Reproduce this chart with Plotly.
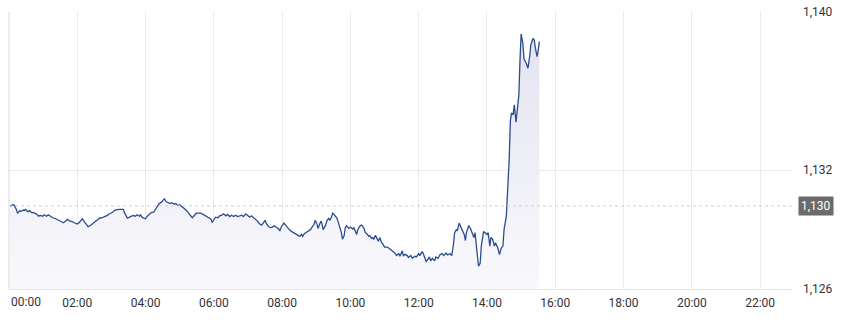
import pandas as pd
import plotly.graph_objects as go

# minutes after 00:00
minutes = [
    2, 7, 9, 13, 15, 19, 21, 25, 27, 29, 33, 36, 40, 43, 48, 52, 55, 59, 62, 66, 69, 73, 77, 82, 87,
    91, 96, 99, 103, 107, 110, 115, 120, 123, 127, 129, 132, 136, 139, 143, 146, 150, 153, 157, 160,
    162, 166, 169, 173, 175, 179, 182, 186, 189, 193, 197, 201, 203, 206, 208, 211, 215, 218, 222, 225,
    229, 231, 234, 237, 240, 243, 247, 250, 254, 257, 261, 264, 268, 271, 273, 276, 279, 283, 286, 290,
    293, 297, 300, 304, 308, 311, 315, 318,
    322, 326, 329, 333, 337, 341, 344, 348, 351, 355, 357, 360, 363, 367, 370, 374, 377, 381, 384, 388,
    391, 395, 398, 402, 405, 409, 412, 416, 419, 423, 426, 430, 433, 437, 440, 444, 447, 450, 452, 456,
    459, 463, 466, 470, 473, 476, 479, 483, 486, 490, 493,
    497, 501, 504, 508, 511, 514, 516, 519, 523, 526, 530, 532, 536, 538, 541, 543, 545, 548, 550, 552,
    556, 559, 562, 564, 566, 569, 571, 573, 576, 578, 582, 584, 586, 589, 591, 593, 597, 600, 604, 606,
    609, 611, 613, 616, 619, 621, 624, 626, 630, 632, 634, 637, 639, 641, 644, 646, 649, 652, 654, 658,
    660, 665, 668, 672, 675, 679, 681, 685, 687, 691, 693, 696, 700, 702, 706, 709, 713, 716, 720, 722,
    726, 728, 730, 733, 736, 739, 741, 744, 748, 750, 754, 757, 761, 764, 768, 771, 775, 778, 781, 783,
    786, 788, 791, 794, 797, 800, 802, 804, 808, 811, 814, 817, 819, 821, 825, 828, 830, 834, 837, 840,
    842, 845, 847, 850, 853, 855, 859, 862, 865, 868, 870, 874, 876, 879, 881, 883, 886, 888, 891, 894,
    896, 898, 900, 903, 905, 909, 912, 915, 917, 921, 923, 925, 928, 930, 932,
]

price = [
    1.13019, 1.13026, 1.13024, 1.13002, 1.12982, 1.12996, 1.12992, 1.12999, 1.12997, 1.13002, 1.12991,
    1.12996, 1.12986, 1.12986, 1.12980, 1.12968, 1.12972, 1.12968, 1.12975, 1.12968, 1.12975, 1.12965,
    1.12960, 1.12955, 1.12948, 1.12945, 1.12935, 1.12943, 1.12952, 1.12943, 1.12942, 1.12935, 1.12928,
    1.12935, 1.12948, 1.12955, 1.12942, 1.12925, 1.12915, 1.12921, 1.12928, 1.12935, 1.12945, 1.12952,
    1.12960,
    1.12958, 1.12962, 1.12968, 1.12972, 1.12978, 1.12982, 1.12988, 1.12999, 1.13002, 1.13002, 1.13002,
    1.13002, 1.12986, 1.12968, 1.12958, 1.12962, 1.12968, 1.12972, 1.12968, 1.12975, 1.12968, 1.12975,
    1.12962, 1.12958, 1.12955, 1.12968, 1.12978, 1.12986, 1.12988, 1.12999, 1.13019, 1.13032, 1.13039,
    1.13049, 1.13056, 1.13042, 1.13039, 1.13032, 1.13036, 1.13029, 1.13032, 1.13022, 1.13026, 1.13016,
    1.13009, 1.12999, 1.12986, 1.12972,
    1.12960, 1.12973, 1.12983, 1.12983, 1.12983, 1.12977, 1.12973, 1.12966, 1.12960, 1.12953, 1.12936,
    1.12950, 1.12963, 1.12960, 1.12970, 1.12973, 1.12980, 1.12970, 1.12977, 1.12966, 1.12973, 1.12966,
    1.12973, 1.12966, 1.12970, 1.12973, 1.12966, 1.12980, 1.12973, 1.12963, 1.12970, 1.12957, 1.12953,
    1.12943, 1.12930, 1.12923, 1.12933, 1.12947, 1.12933, 1.12916, 1.12910, 1.12913, 1.12920, 1.12913,
    1.12906, 1.12896, 1.12916, 1.12933, 1.12921, 1.12910, 1.12899,
    1.12890, 1.12883, 1.12876, 1.12870, 1.12866, 1.12876, 1.12866, 1.12880, 1.12886, 1.12893, 1.12900,
    1.12910, 1.12927, 1.12947, 1.12930, 1.12906, 1.12923, 1.12943, 1.12930, 1.12900, 1.12920, 1.12947,
    1.12957, 1.12947, 1.12960, 1.12983, 1.12977, 1.12970, 1.12960, 1.12943, 1.12910, 1.12886, 1.12852,
    1.12870, 1.12910, 1.12920, 1.12906, 1.12913, 1.12903, 1.12910, 1.12890, 1.12876, 1.12900, 1.12916,
    1.12923, 1.12920, 1.12906, 1.12886, 1.12876, 1.12866, 1.12870, 1.12856, 1.12860, 1.12852, 1.12871,
    1.12858, 1.12842, 1.12860, 1.12839, 1.12822, 1.12812,
    1.12812, 1.12806, 1.12796, 1.12789, 1.12779, 1.12769, 1.12779, 1.12765, 1.12792, 1.12769, 1.12775,
    1.12769, 1.12759, 1.12769, 1.12755, 1.12765, 1.12762, 1.12779, 1.12769, 1.12789, 1.12779, 1.12759,
    1.12739, 1.12749, 1.12762, 1.12742, 1.12755, 1.12742, 1.12762, 1.12755, 1.12772, 1.12779, 1.12769,
    1.12782, 1.12772, 1.12779, 1.12769, 1.12823, 1.12883, 1.12900, 1.12896, 1.12933, 1.12913, 1.12896,
    1.12876, 1.12845, 1.12886, 1.12921, 1.12906, 1.12883, 1.12860, 1.12885, 1.12817, 1.12716, 1.12730,
    1.12817, 1.12891, 1.12885, 1.12875, 1.12885, 1.12817, 1.12861, 1.12851, 1.12817, 1.12834, 1.12807,
    1.12774, 1.12807, 1.12817, 1.12901, 1.12968, 1.13086, 1.13254, 1.13446, 1.13489, 1.13481, 1.13531,
    1.13443, 1.13516, 1.13582, 1.13758, 1.13889, 1.13842, 1.13762, 1.13741, 1.13716, 1.13775, 1.13834,
    1.13867, 1.13859, 1.13817, 1.13775, 1.13809, 1.13850,
]

prev_close = 1.1302
y_ticks = [1.126, 1.132, 1.140]
y_tick_text = ["1,126", "1,132", "1,140"]
x_tick_hours = [0, 2, 4, 6, 8, 10, 12, 14, 16, 18, 20, 22]
x_tick_text = ["00:00", "02:00", "04:00", "06:00", "08:00", "10:00",
               "12:00", "14:00", "16:00", "18:00", "20:00", "22:00"]

n = min(len(minutes), len(price))
base = pd.Timestamp("2024-01-01 00:00")
times = [base + pd.Timedelta(minutes=m) for m in minutes[:n]]
tick_vals = [base + pd.Timedelta(hours=h) for h in x_tick_hours]
# first label is drawn left-aligned at the axis start (like the reference)
axis_tick_text = [""] + x_tick_text[1:]

fig = go.Figure()
fig.add_trace(go.Scatter(
    x=times, y=price[:n], mode="lines",
    line=dict(color="#2b4c8e", width=1.3),
    fill="tozeroy",
    fillgradient=dict(type="vertical",
                      colorscale=[[0, "rgba(249,249,252,1)"], [1, "rgba(226,226,241,1)"]],
                      start=1.126, stop=1.140),
    hoverinfo="skip", showlegend=False,
))

fig.add_shape(type="line", xref="paper", x0=0, x1=1, yref="y", y0=prev_close, y1=prev_close,
              line=dict(color="#cfcfcf", width=1, dash="3px,3px"))
fig.add_shape(type="line", xref="paper", x0=0, x1=0, yref="paper", y0=0, y1=1,
              line=dict(color="#d9d9d9", width=1))

fig.add_annotation(xref="x", x=tick_vals[0], xanchor="left", xshift=0,
                   yref="paper", y=0, yanchor="top", yshift=-4,
                   text=x_tick_text[0], showarrow=False,
                   font=dict(family="Roboto", size=12, color="#333333"))

fig.add_annotation(xref="paper", x=1, xanchor="left", xshift=6, yref="y", y=prev_close,
                   text="1,130", showarrow=False, bgcolor="#6b6b6b",
                   font=dict(family="Roboto", size=12, color="white"), borderpad=2)

fig.update_layout(
    width=852, height=320,
    margin=dict(l=9, r=60, t=12, b=31, autoexpand=False),
    paper_bgcolor="white", plot_bgcolor="white",
    font=dict(family="Roboto", size=12, color="#333333"),
    xaxis=dict(
        range=[base, base + pd.Timedelta(minutes=1376)],
        tickmode="array", tickvals=tick_vals, ticktext=axis_tick_text,
        showgrid=True, gridcolor="#ebebeb", gridwidth=1,
        showline=True, linecolor="#e6e6e6", zeroline=False,
        ticks="", ticklabelstandoff=3,
        automargin=False,
        tickfont=dict(family="Roboto", size=12, color="#333333"),
        fixedrange=True,
    ),
    yaxis=dict(
        side="right", range=[1.126, 1.140],
        tickmode="array", tickvals=y_ticks, ticktext=y_tick_text,
        showgrid=True, gridcolor="#ebebeb", gridwidth=1,
        zeroline=False, ticks="", ticklabelstandoff=10, automargin=False,
        tickfont=dict(family="Roboto", size=12, color="#333333"),
    ),
)

fig.write_html("out.html")
